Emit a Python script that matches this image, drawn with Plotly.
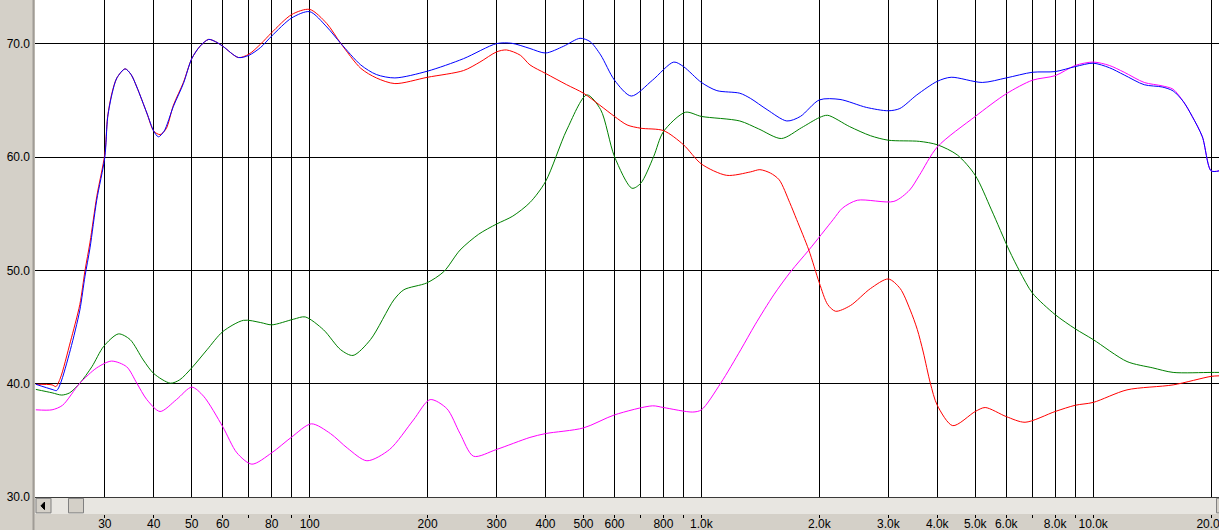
import math
import plotly.graph_objects as go

# ---------------- data ----------------
f_blue = [20, 22, 22.6, 23.1, 24.5, 25.9, 26.7, 27.5, 28.6, 30, 30.5, 31.3, 32.2, 33.8, 35, 36.2, 38.4, 40, 41.1, 42.5,
          44.9, 47.6, 50, 52.5, 55.2, 57.5, 60, 65.8, 70, 75, 80, 90, 100, 110.6, 120, 135, 148, 165, 200, 247, 300, 328,
          365, 400, 445, 490, 520, 553, 600, 662, 750, 850, 900, 1000, 1095, 1253, 1333, 1471, 1652, 1789, 2000, 2258,
          2636, 3000, 3210, 3547, 4000, 4340, 5210, 6000, 7000, 8000, 9000, 10000, 11000, 12000, 13500, 15000, 16000,
          17000, 17900, 19000, 20000, 21000]
db_blue = [39.95, 39.5, 39.4, 40.0, 43.0, 46.5, 49.5, 52.0, 56.2, 60.0, 63.5, 65.6, 67.0, 67.8, 67.3, 66.2, 63.9, 62.3, 61.8, 62.3,
           64.5, 66.5, 68.7, 69.8, 70.4, 70.2, 69.8, 68.8, 69.0, 69.7, 70.7, 72.3, 72.85, 71.5, 70.06, 68.15, 67.3, 67.0, 67.6, 68.7, 70.03, 70.06,
           69.6, 69.2, 69.8, 70.5, 70.2, 69.03, 66.8, 65.4, 66.8, 68.4, 68.0, 66.6, 65.88, 65.65, 65.2, 64.2, 63.2, 63.6, 65.06, 65.1,
           64.4, 64.1, 64.3, 65.5, 66.7, 67.06, 66.6, 67.0, 67.5, 67.56, 68.0, 68.3, 67.9, 67.26, 66.4, 66.2, 65.85,
           64.9, 63.6, 61.8, 58.8, 58.8]

f_red = [20, 22, 22.5, 23.1, 24.5, 25.9, 26.7, 27.5, 28.6, 30, 30.5, 31.3, 32.2, 33.8, 35, 36.2, 38.4, 40, 41.5, 43,
         44.9, 47.6, 50, 52.5, 55.2, 57.5, 60, 65.8, 70, 75, 80, 90, 100, 110.6, 120, 135, 148, 165, 200, 247, 272, 300, 318,
         345, 365, 400, 453, 500, 550, 600, 646, 700, 800, 900, 1000, 1160, 1333, 1410, 1500, 1580, 1680, 1750, 1880, 2000,
         2100, 2200, 2400, 2700, 3000, 3217, 3413, 3556, 3683, 3840, 4000, 4380, 5000, 5300, 6000, 6700, 8000, 9000, 10000,
         12200, 16000, 20000, 21000]
db_red = [39.95, 39.9, 39.75, 40.5, 43.7, 47.0, 50.0, 52.5, 56.5, 60.3, 63.6, 65.7, 67.0, 67.8, 67.3, 66.2, 63.9, 62.3, 62.0, 62.5,
          64.6, 66.6, 68.7, 69.8, 70.4, 70.2, 69.8, 68.8, 69.1, 70.0, 71.0, 72.6, 73.05, 71.8, 70.06, 67.85, 67.0, 66.5, 67.06, 67.65, 68.4, 69.3, 69.47,
          69.0, 68.15, 67.4, 66.4, 65.65, 64.6, 63.6, 62.85, 62.56, 62.35, 61.1, 59.4, 58.4, 58.7, 58.9, 58.6, 58.0, 56.0, 54.5, 51.8, 48.9,
          47.0, 46.4, 46.9, 48.4, 49.25, 48.4, 46.5, 44.8, 42.8, 40.05, 38.1, 36.3, 37.55, 37.9, 37.1, 36.6, 37.55, 38.1, 38.35,
          39.46, 39.9, 40.65, 40.7]

f_green = [20, 22, 23.3, 24.4, 25.9, 27.8, 29.8, 32.5, 34.8, 37.6, 40, 44.1, 46.6, 50, 54.7, 60, 67.8, 75, 80, 91, 97.4,
           108.5, 120, 129, 143, 164, 174, 199, 220, 242, 270, 300, 330, 365, 400, 453, 510, 553, 600, 665, 700, 755, 800,
           910, 1000, 1253, 1400, 1600, 1800, 2000, 2100, 2390, 2700, 3000, 3600, 4000, 4500, 5000, 5500, 6100, 6500,
           7000, 8000, 9000, 10000, 12200, 14200, 16000, 20000, 21000]
db_green = [39.5, 39.2, 39.0, 39.2, 40.05, 41.5, 43.3, 44.4, 43.9, 42.1, 40.9, 40.05, 40.35, 41.4, 43.0, 44.6, 45.6, 45.4, 45.2, 45.7, 45.9,
            44.76, 43.0, 42.5, 43.9, 47.4, 48.3, 48.9, 49.9, 51.8, 53.2, 54.1, 54.8, 56.0, 57.85, 62.4, 65.5, 64.2, 60.05, 57.26, 57.7, 60.05, 62.26,
            63.97, 63.6, 63.2, 62.5, 61.65, 62.6, 63.5, 63.7, 62.7, 61.9, 61.5, 61.4, 61.1, 60.2, 58.4, 55.35, 51.8, 49.9,
            48.0, 46.1, 44.85, 43.9, 41.96, 41.4, 41.0, 41.0, 41.0]

f_pink = [20, 22, 23.4, 25.9, 28.6, 31.2, 34.1, 36.2, 38.4, 41.5, 45.7, 50, 53.6, 60, 65.2, 71.2, 80, 90, 101, 113, 125,
          140, 160, 184, 203, 224, 242, 262, 300, 365, 400, 500, 600, 750, 800, 950, 1000, 1120, 1260, 1370, 1530, 1690,
          1880, 2170, 2290, 2500, 3100, 3400, 3600, 4000, 5000, 6000, 7000, 8000, 9000, 10000, 11000, 12000, 13500,
          15000, 16000, 17000, 17900, 19000, 20000, 21000]
db_pink = [37.7, 37.7, 38.1, 40.05, 41.4, 42.0, 41.5, 40.05, 38.6, 37.55, 38.6, 39.7, 38.9, 36.2, 33.9, 32.9, 33.9, 35.3, 36.46, 35.6, 34.3,
           33.2, 34.2, 36.8, 38.6, 37.8, 35.6, 33.6, 34.2, 35.26, 35.6, 36.1, 37.25, 38.05, 37.9, 37.5, 37.7, 40.05, 43.0, 45.2, 47.85, 49.9,
           51.8, 54.5, 55.5, 56.2, 56.1, 57.1, 58.4, 60.9, 63.6, 65.6, 66.8, 67.2, 68.1, 68.4, 68.1, 67.5, 66.6,
           66.3, 66.0, 64.9, 63.6, 61.8, 58.8, 58.8]

x_tickvals = [30, 40, 50, 60, 70, 80, 90, 100, 200, 300, 400, 500, 600, 700, 800, 900, 1000,
              2000, 3000, 4000, 5000, 6000, 7000, 8000, 9000, 10000, 20000]
x_ticktext = ["30", "40", "50", "60", "", "80", "", "100", "200", "300", "400", "500", "600", "", "800", "", "1.0k",
              "2.0k", "3.0k", "4.0k", "5.0k", "6.0k", "", "8.0k", "", "10.0k", "20.0k"]
y_tickvals = [30, 40, 50, 60, 70]
y_ticktext = ["30.0", "40.0", "50.0", "60.0", "70.0"]

# ---------------- figure ----------------
W, H = 1219, 530
ML, MB = 35, 16
PW = W - ML

fig = go.Figure()
for fx, fy, col in [(f_green, db_green, "#008000"), (f_pink, db_pink, "#ff00ff"),
                    (f_red, db_red, "#ff0000"), (f_blue, db_blue, "#0000ff")]:
    fig.add_trace(go.Scatter(x=fx, y=fy, mode="lines", line=dict(color=col, width=1, shape="spline", smoothing=0.8),
                             hoverinfo="skip", showlegend=False))

font = dict(family="Liberation Sans, Arial, sans-serif", size=12, color="black")
ymin, ymax = 28.5, 73.88

fig.update_layout(
    width=W, height=H, margin=dict(l=ML, r=0, t=0, b=MB, pad=0, autoexpand=False),
    paper_bgcolor="#d4d0c8", plot_bgcolor="white", showlegend=False,
    xaxis=dict(type="log", range=[math.log10(19.9), math.log10(20950)], tickvals=x_tickvals, ticktext=x_ticktext,
               ticks="outside", ticklen=3, tickcolor="black", tickwidth=1, showgrid=True, gridcolor="black",
               gridwidth=1, zeroline=False, showline=False, tickfont=font, fixedrange=True, automargin=False,
               ticklabelstandoff=-4, ticklabeloverflow="allow"),
    yaxis=dict(range=[ymin, ymax], tickvals=y_tickvals, ticktext=y_ticktext, ticks="", showgrid=True,
               gridcolor="black", gridwidth=1, zeroline=False, showline=False, tickfont=font, fixedrange=True,
               ticklabelstandoff=4, automargin=False),
)

def px(p):
    return p / PW

shapes = []
# scrollbar track
shapes.append(dict(type="rect", xref="paper", yref="y", x0=0, x1=1, y0=ymin, y1=29.93,
                   fillcolor="#e8e6e1", line=dict(width=0), layer="above"))
# left arrow button
shapes.append(dict(type="rect", xref="paper", yref="y", x0=px(1), x1=px(16), y0=28.6, y1=29.88,
                   fillcolor="#d4d0c8", line=dict(color="#808080", width=1), layer="above"))
shapes.append(dict(type="path", xref="paper", yref="y",
                   path=f"M {px(6)} 29.22 L {px(9.5)} 29.55 L {px(9.5)} 28.89 Z",
                   fillcolor="black", line=dict(color="black", width=1), layer="above"))
# thumb
shapes.append(dict(type="rect", xref="paper", yref="y", x0=px(33.5), x1=px(48.5), y0=28.6, y1=29.88,
                   fillcolor="#d4d0c8", line=dict(color="#808080", width=1), layer="above"))
# right button (partially visible)
shapes.append(dict(type="rect", xref="paper", yref="y", x0=px(1181.5), x1=px(1186), y0=28.6, y1=29.88,
                   fillcolor="#d4d0c8", line=dict(color="#808080", width=1), layer="above"))
# left panel separator line
shapes.append(dict(type="line", xref="paper", yref="paper", x0=px(-1.5), x1=px(-1.5), y0=-MB / (H - MB), y1=1,
                   line=dict(color="#a09c96", width=2), layer="above"))
fig.update_layout(shapes=shapes)

fig.write_html("out.html", config={"displayModeBar": False},
               post_script="document.body.style.margin='0';document.body.style.overflow='hidden';")
